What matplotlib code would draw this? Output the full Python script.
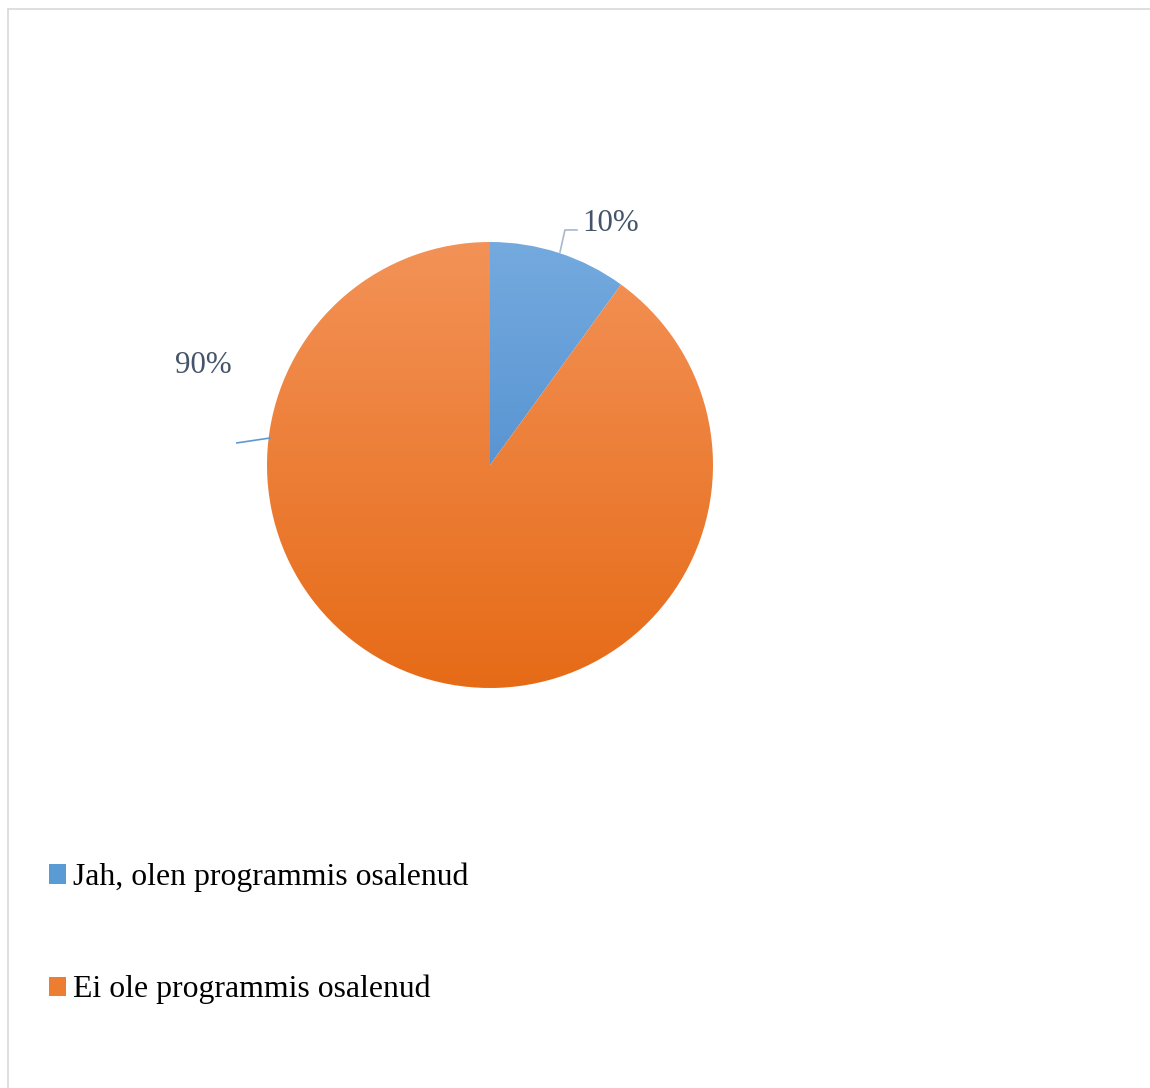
import matplotlib.pyplot as plt
import numpy as np
from matplotlib.colors import LinearSegmentedColormap
from matplotlib.patches import Patch

plt.rcParams['font.family'] = ['Liberation Serif', 'DejaVu Serif']

# andmed
labels = ["Jah, olen programmis osalenud", "Ei ole programmis osalenud"]
values = [10, 90]
pct_labels = ["10%", "90%"]
# gradient: ülemine ja alumine toon
colors_top = ["#74aade", "#f39257"]
colors_bot = ["#3f80c8", "#e66b17"]
colors_mid = ["#5b9bd5", "#ed7d31"]

fig = plt.figure(figsize=(11.5, 10.88), dpi=100)
W, H = 1150, 1088
cx, cy, r = 490, 465, 223
ax = fig.add_axes([(cx - r) / W, 1 - (cy + r) / H, 2 * r / W, 2 * r / H])

wedges, _ = ax.pie(values, startangle=90, counterclock=False, radius=1,
                   colors=colors_mid, wedgeprops=dict(linewidth=0))
ax.set_aspect('equal')
ax.axis('off')

grad = np.linspace(0, 1, 256).reshape(-1, 1)
for w, ct, cb in zip(wedges, colors_top, colors_bot):
    cmap = LinearSegmentedColormap.from_list('g', [ct, cb])
    im = ax.imshow(grad, cmap=cmap, extent=[-1, 1, -1, 1], aspect='auto',
                   origin='upper', zorder=2)
    im.set_clip_path(w)
    w.set_facecolor('none')
ax.set_xlim(-1, 1)
ax.set_ylim(-1, 1)

# andmesildid + juhtjooned
txt_color = '#44546a'
ax.plot([0.314, 0.336, 0.39], [0.955, 1.054, 1.054], color='#a9b8cb',
        lw=1.2, clip_on=False, zorder=3)
ax.text(0.413, 1.081, pct_labels[0], fontsize=22.3, color=txt_color,
        ha='left', va='center')
ax.plot([-1.135, -0.987], [0.099, 0.121], color='#5b9bd5', lw=1.2,
        clip_on=False, zorder=3)
ax.text(-1.287, 0.444, pct_labels[1], fontsize=22.3, color=txt_color,
        ha='center', va='center')

handles = [Patch(facecolor=c, edgecolor='none') for c in colors_mid]
fig.legend(handles, labels, loc='upper left', bbox_to_anchor=(36 / W, 1 - 850 / H),
           frameon=False, fontsize=22.9, handlelength=0.55, handleheight=0.55,
           handletextpad=0.2, labelspacing=2.6, borderaxespad=0)

# raam (üleval ja vasakul)
fig.add_artist(plt.Line2D([7.5 / W, 1], [1 - 8.5 / H, 1 - 8.5 / H],
                          color='#d9d9d9', lw=1.2, transform=fig.transFigure))
fig.add_artist(plt.Line2D([7.5 / W, 7.5 / W], [0, 1 - 8.5 / H],
                          color='#d9d9d9', lw=1.2, transform=fig.transFigure))

plt.savefig('out.png', dpi=100)
